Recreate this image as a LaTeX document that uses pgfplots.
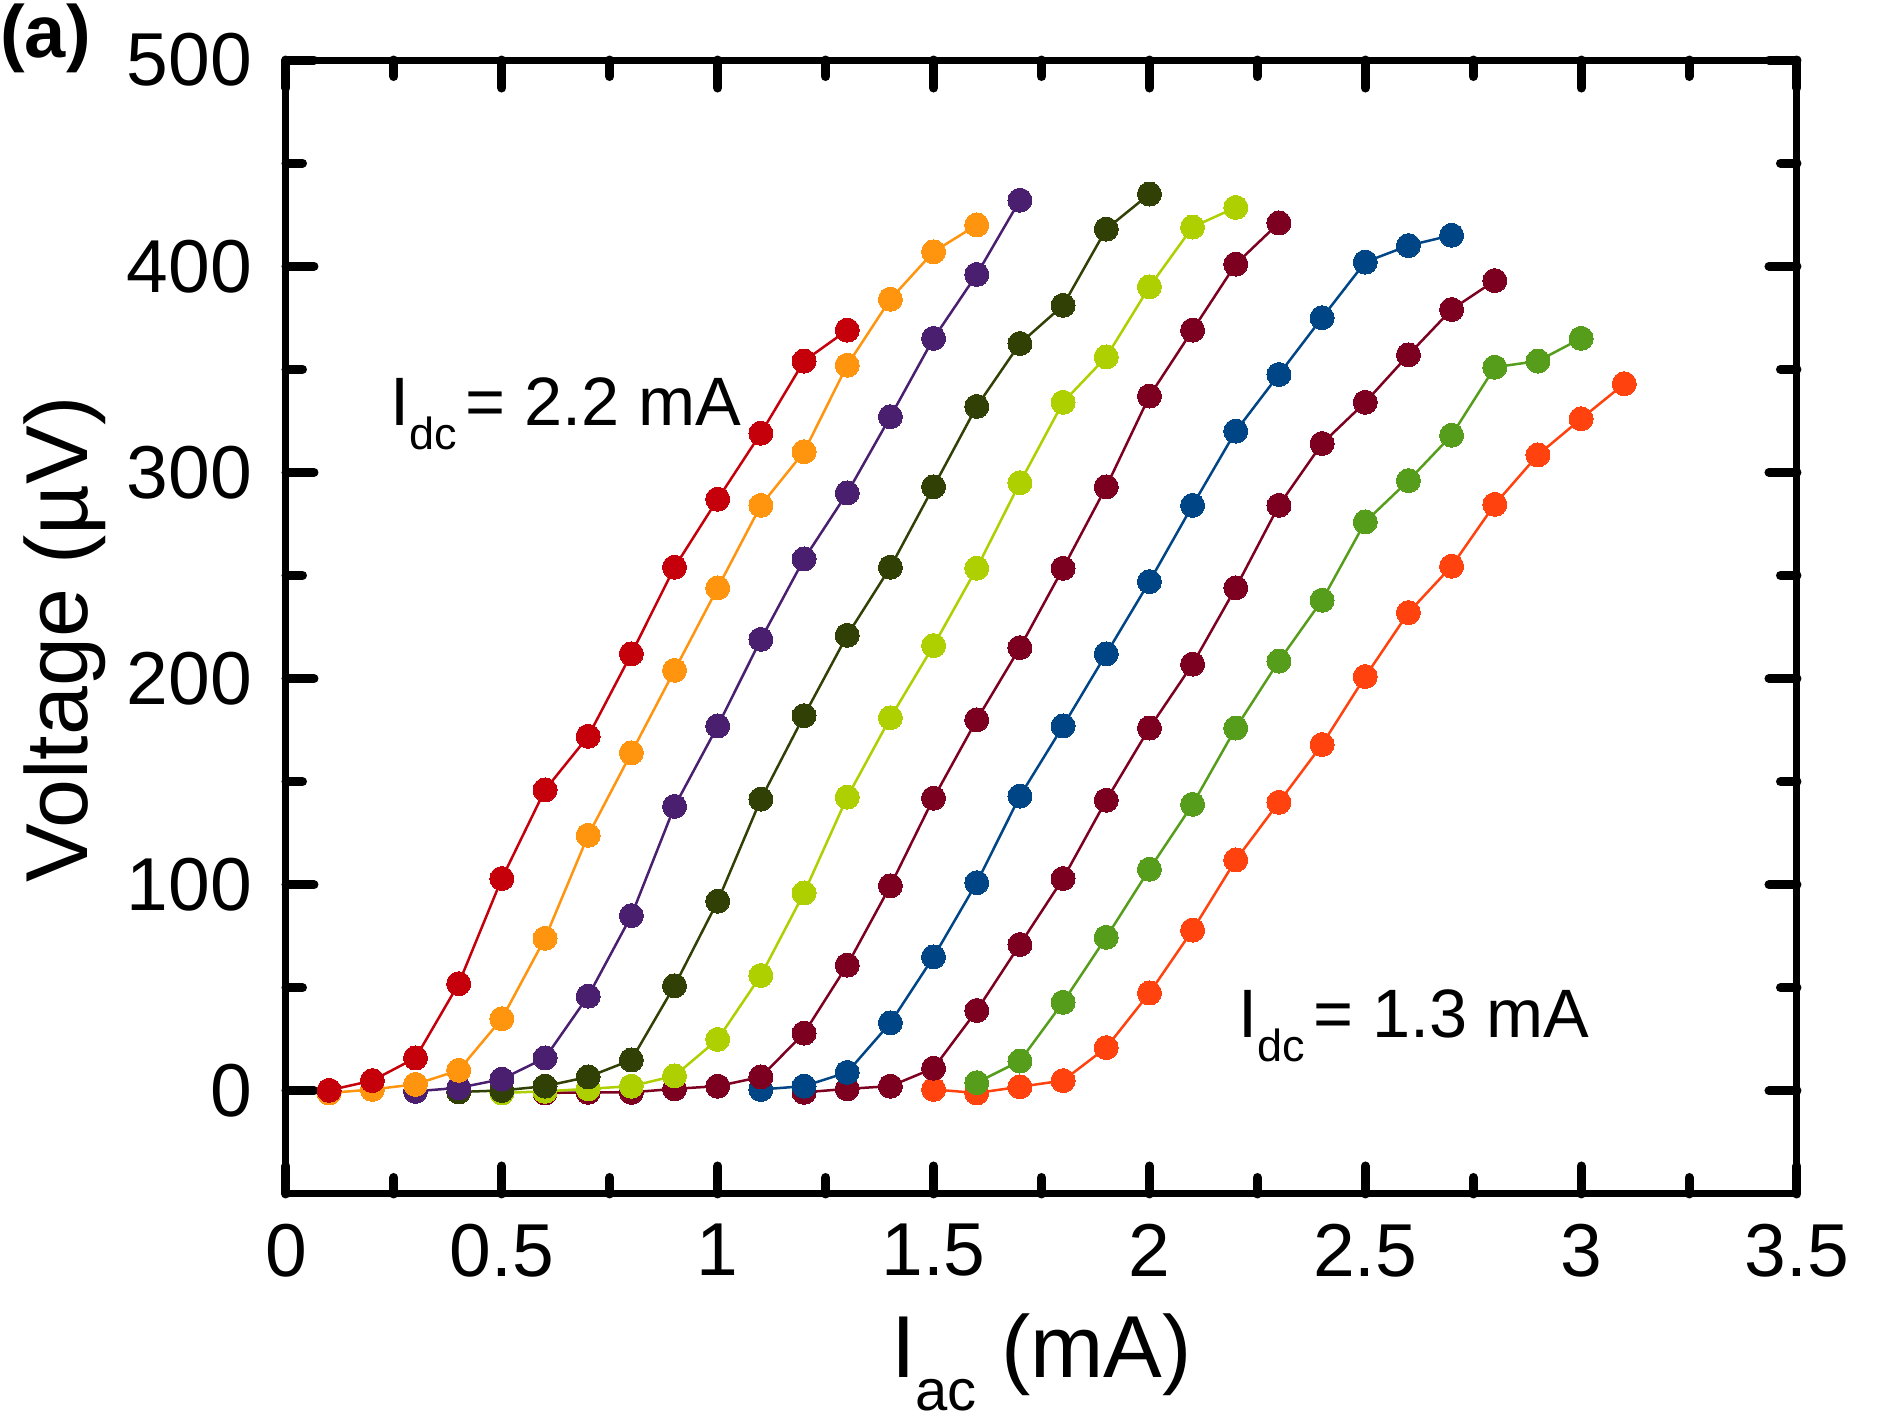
\documentclass[border=0pt]{standalone}
\usepackage{fontspec}
\setmainfont{Liberation Sans}
\usepackage{pgfplots}
\pgfplotsset{compat=1.18}
\usetikzlibrary{calc}
\definecolor{cRed}{HTML}{C5000B}
\definecolor{cOrange}{HTML}{FF950E}
\definecolor{cPurple}{HTML}{4B1F6F}
\definecolor{cOlive}{HTML}{314004}
\definecolor{cLime}{HTML}{AECF00}
\definecolor{cMaroon}{HTML}{7E0021}
\definecolor{cBlue}{HTML}{004586}
\definecolor{cGreen}{HTML}{579D1C}
\definecolor{cOrRed}{HTML}{FF420E}
\pgfplotsset{ser/.style={color=#1, line width=0.5pt, mark=*, mark size=2.4pt, mark options={solid, fill=#1, draw=#1, line width=0pt}}}
\begin{document}
\begin{tikzpicture}
\begin{axis}[
  scale only axis, width=302.2pt, height=226.8pt,
  xmin=0, xmax=3.5, ymin=-50, ymax=500,
  xtick={0,0.5,1,1.5,2,2.5,3,3.5},
  ytick={0,100,200,300,400,500},
  minor xtick={0.25,0.75,1.25,1.75,2.25,2.75,3.25},
  minor ytick={50,150,250,350,450},
  tick align=inside, tick pos=both,
  major tick length=5.6pt, minor tick length=3.3pt,
  every tick/.style={black, line width=1.8pt, line cap=round},
  axis line style={line width=1.4pt},
  /pgf/number format/assume math mode=true,
  tick label style={font=\fontsize{15}{18}\selectfont},
  xticklabel style={inner sep=0pt, yshift=-5.8pt},
  yticklabel style={inner sep=0pt, xshift=-6.6pt},
  xlabel={I\raisebox{-0.37em}{\fontsize{11.6}{13}\selectfont ac} (mA)},
  ylabel={Voltage (µV)},
  xlabel style={at={(axis description cs:0.5,0)}, anchor=north, inner sep=0pt, yshift=-23.8pt, font=\fontsize{17.6}{20}\selectfont},
  ylabel style={at={(axis description cs:-0.1185,0.489)}, anchor=south, inner sep=0pt, font=\fontsize{17.6}{20}\selectfont},
  clip=false,
]
\addplot[ser=cOrRed] coordinates {(1.5,0.7)(1.6,-1)(1.7,2)(1.8,5)(1.9,21)(2.0,47.5)(2.1,78)(2.2,112)(2.3,140)(2.4,168)(2.5,201)(2.6,232)(2.7,254.5)(2.8,284.5)(2.9,308.5)(3.0,326)(3.1,343)};
\addplot[ser=cGreen] coordinates {(1.6,4)(1.7,14.5)(1.8,43)(1.9,74.5)(2.0,107.5)(2.1,139)(2.2,176)(2.3,208.5)(2.4,238)(2.5,276)(2.6,296)(2.7,318)(2.8,351)(2.9,354)(3.0,365)};
\addplot[ser=cMaroon] coordinates {(1.2,-0.7)(1.3,1)(1.4,2.3)(1.5,11)(1.6,39)(1.7,71)(1.8,103)(1.9,141)(2.0,176)(2.1,207)(2.2,244)(2.3,284)(2.4,314)(2.5,334)(2.6,357)(2.7,379)(2.8,393)};
\addplot[ser=cBlue] coordinates {(1.1,0.7)(1.2,2.3)(1.3,9)(1.4,33)(1.5,65)(1.6,101)(1.7,143)(1.8,177)(1.9,212)(2.0,247)(2.1,284)(2.2,320)(2.3,347.5)(2.4,375)(2.5,402)(2.6,410)(2.7,415)};
\addplot[ser=cMaroon] coordinates {(0.6,-1)(0.7,-0.7)(0.8,-0.7)(0.9,1)(1.0,2.3)(1.1,6.8)(1.2,28)(1.3,61)(1.4,99.5)(1.5,142)(1.6,180)(1.7,215)(1.8,253.5)(1.9,293)(2.0,337)(2.1,369)(2.2,401)(2.3,421)};
\addplot[ser=cLime] coordinates {(0.5,-1)(0.6,-0.2)(0.7,1)(0.8,2.3)(0.9,7.3)(1.0,25)(1.1,56)(1.2,96)(1.3,142.5)(1.4,181)(1.5,216)(1.6,253.5)(1.7,295)(1.8,334)(1.9,356)(2.0,390)(2.1,419)(2.2,428.5)};
\addplot[ser=cOlive] coordinates {(0.4,-0.5)(0.5,0.2)(0.6,2.3)(0.7,6.8)(0.8,15)(0.9,51)(1.0,92)(1.1,141.5)(1.2,182)(1.3,221)(1.4,254)(1.5,293)(1.6,332)(1.7,362.5)(1.8,381)(1.9,418)(2.0,435)};
\addplot[ser=cPurple] coordinates {(0.3,-0.2)(0.4,1.5)(0.5,5.7)(0.6,16)(0.7,46)(0.8,85)(0.9,138)(1.0,177)(1.1,219)(1.2,258)(1.3,290)(1.4,327)(1.5,365)(1.6,396)(1.7,432)};
\addplot[ser=cOrange] coordinates {(0.1,-1)(0.2,0.7)(0.3,3.2)(0.4,10)(0.5,35)(0.6,74)(0.7,124)(0.8,164)(0.9,204)(1.0,244)(1.1,284)(1.2,310)(1.3,352)(1.4,384)(1.5,407)(1.6,420)};
\addplot[ser=cRed] coordinates {(0.1,0.3)(0.2,5)(0.3,16)(0.4,52)(0.5,103)(0.6,146)(0.7,172)(0.8,212)(0.9,254)(1.0,287)(1.1,319)(1.2,354)(1.3,369)};
\node[anchor=base west, inner sep=0pt, font=\fontsize{13.7}{16}\selectfont] at (axis cs:0.2407,322.8) {I\raisebox{-0.35em}{\fontsize{9}{10}\selectfont dc}\hspace{0.12em}= 2.2 mA};
\node[anchor=base west, inner sep=0pt, font=\fontsize{13.7}{16}\selectfont] at (axis cs:2.2043,25.7) {I\raisebox{-0.35em}{\fontsize{9}{10}\selectfont dc}\hspace{0.12em}= 1.3 mA};
\node[anchor=base west, inner sep=0pt, font=\fontsize{14.8}{17}\selectfont\bfseries] at (axis cs:-0.664,501.2) {(a)};
\end{axis}
\pgfresetboundingbox
\useasboundingbox ($(current axis.south west)+(-57.2pt,-44.6pt)$) rectangle ++(377.8pt,283.4pt);
\end{tikzpicture}
\end{document}
